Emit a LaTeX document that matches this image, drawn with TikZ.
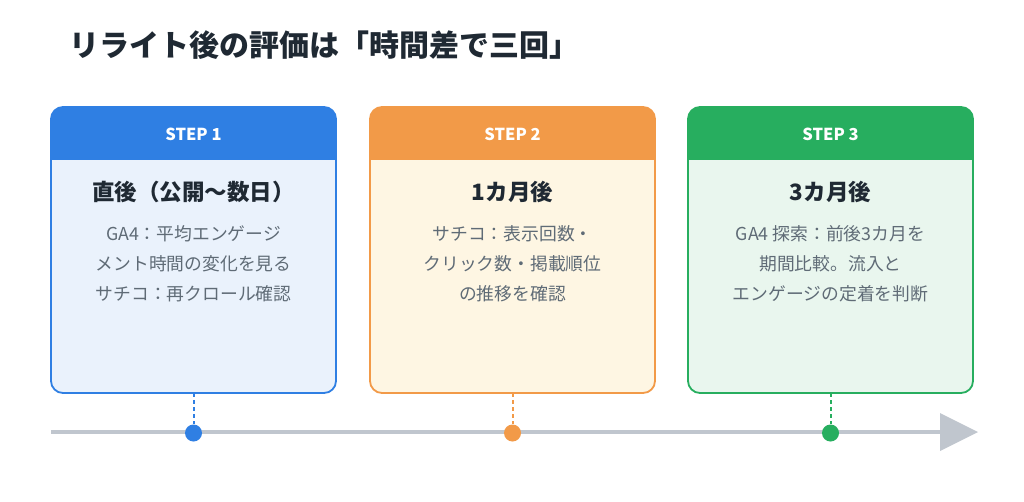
\documentclass[tikz,border=0pt]{standalone}
\usepackage{fontspec}
\setmainfont{Noto Sans CJK JP}
\definecolor{cb}{HTML}{2F7FE3}\definecolor{cbl}{HTML}{EAF2FC}
\definecolor{co}{HTML}{F29A48}\definecolor{col}{HTML}{FEF6E3}
\definecolor{cg}{HTML}{27AE5F}\definecolor{cgl}{HTML}{E9F6EE}
\definecolor{tx}{HTML}{1F2933}\definecolor{gt}{HTML}{5F6B76}\definecolor{ax}{HTML}{C0C6CE}
\begin{document}
\begin{tikzpicture}[x=1pt,y=-1pt,
 ttl/.style={font=\fontsize{16.5}{20}\selectfont\bfseries,text=white},
 hd/.style={font=\fontsize{22.5}{26}\selectfont\bfseries,text=tx},
 bd/.style={font=\fontsize{17.8}{30}\selectfont,text=gt,align=center}]
\useasboundingbox (0,0) rectangle (1024,501);
\fill[white] (0,0) rectangle (1024,501);
\node[anchor=west,font=\fontsize{30}{36}\selectfont\bfseries,text=tx] (title) at (66,45) {リライト後の評価は「時間差で三回」};
\draw[ax,line width=4pt] (51,432) -- (942,432);
\fill[ax] (940,413) -- (978,432) -- (940,451) -- cycle;
\foreach \i/\x/\c/\l/\h/\b in {1/51/cb/cbl/直後（公開〜数日）/{GA4：平均エンゲージ\\メント時間の変化を見る\\サチコ：再クロール確認},
 2/370/co/col/1カ月後/{サチコ：表示回数・\\クリック数・掲載順位\\の推移を確認},
 3/688/cg/cgl/3カ月後/{GA4 探索：前後3カ月を\\期間比較。流入と\\エンゲージの定着を判断}}{
 \fill[\l,rounded corners=12pt] (\x,107) rectangle ++(285,286);
 \begin{scope}
 \clip[rounded corners=12pt] (\x,107) rectangle ++(285,286);
 \fill[\c] (\x,107) rectangle ++(285,53);
 \end{scope}
 \draw[\c,line width=1.8pt,rounded corners=12pt] (\x,107) rectangle ++(285,286);
 \node[ttl] (s\i) at (\x+142.5,134) {STEP \i};
 \node[hd] (h\i) at (\x+142.5,192) {\h};
 \node[bd,anchor=north] (b\i) at (\x+142.5,222) {\b};
 \coordinate (c\i) at (\x+142.5,393);
 \node[circle,fill=\c,minimum size=17pt,inner sep=0] (d\i) at (\x+142.5,433) {};
 \draw[\c,line width=2pt,dash pattern=on 4pt off 3pt] (c\i) -- (d\i);
}
\end{tikzpicture}
\end{document}
